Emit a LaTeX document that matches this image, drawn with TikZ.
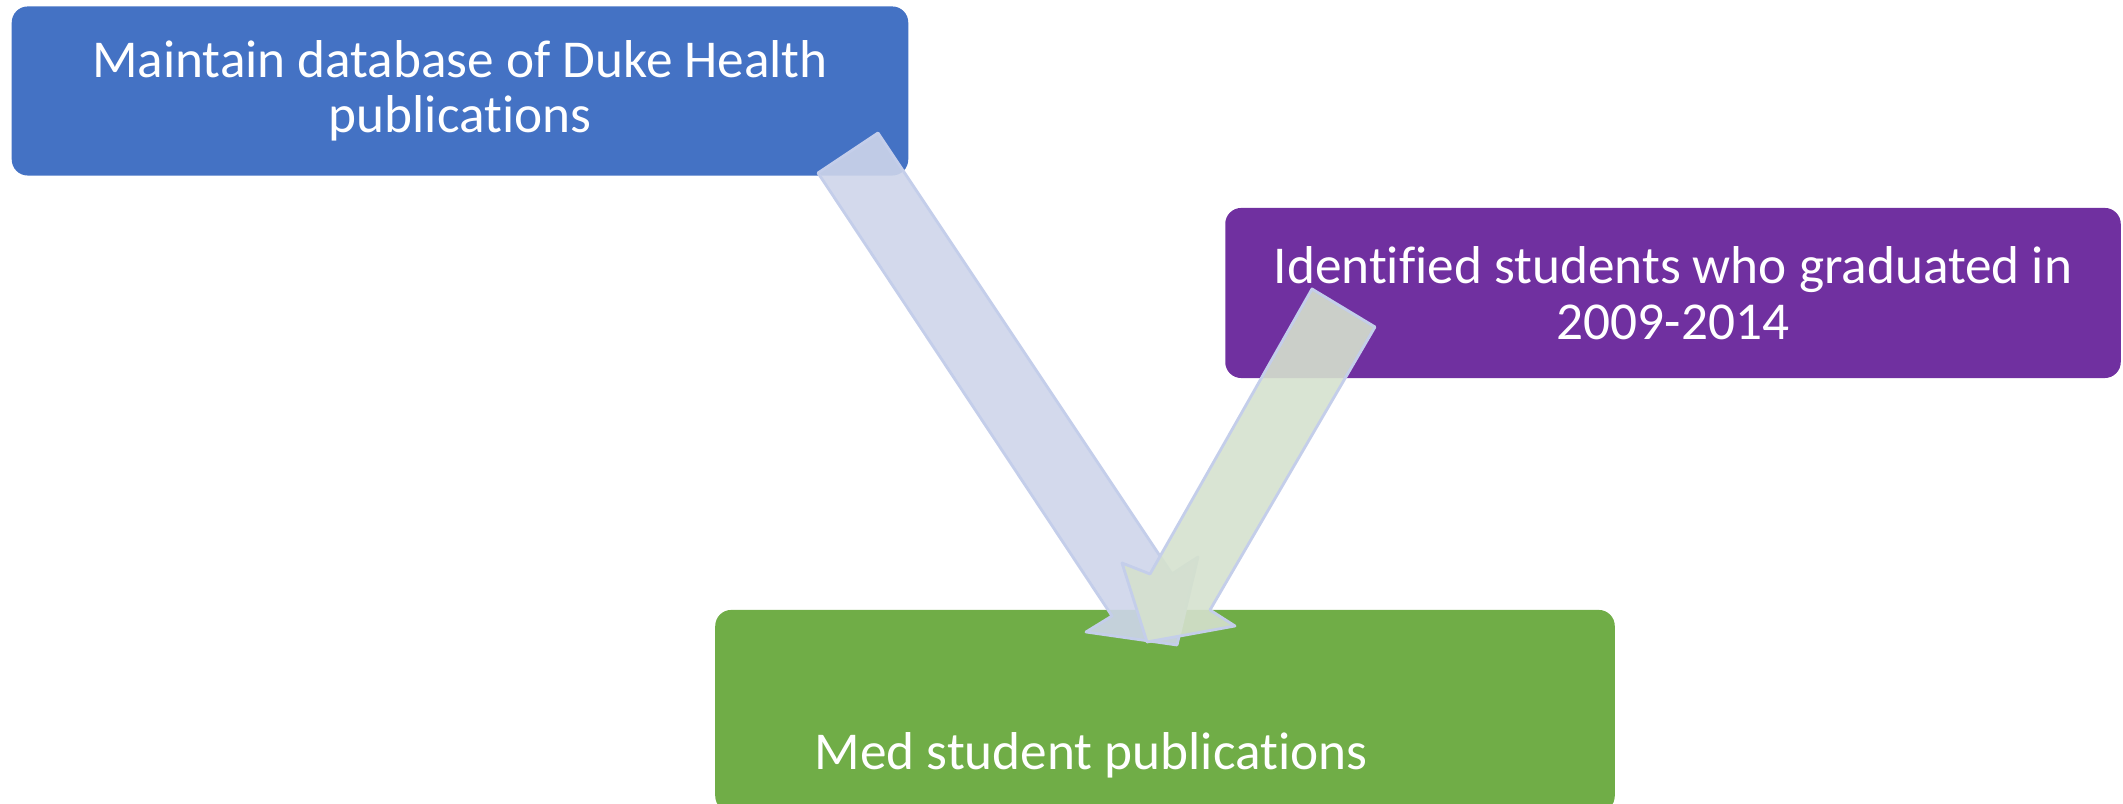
\documentclass[tikz,border=0pt]{standalone}
\usepackage{fontspec}
\setmainfont{Carlito}[Ligatures={NoCommon}]

\definecolor{dukeblue}{HTML}{4472C4}
\definecolor{gradpurple}{HTML}{7030A0}
\definecolor{medgreen}{HTML}{70AD47}
\definecolor{bluearrow}{RGB}{206,213,234}
\definecolor{greenarrow}{RGB}{213,225,206}
\definecolor{arrowline}{RGB}{196,206,234}

\tikzset{
  box/.style={rounded corners=0.16cm, inner sep=0pt, text=white, align=center,
    font=\fontsize{15.15}{15.8}\selectfont},
  blockarrow/.style={draw=arrowline, line width=0.8pt, line join=round, fill opacity=0.9},
}

\begin{document}
\begin{tikzpicture}[x=0.01cm, y=-0.01cm]
      \useasboundingbox (0,0) rectangle (2123,804);

      \node[box, fill=dukeblue, minimum width=8.96cm, minimum height=1.69cm] (maintain) at (460,91)
        {Maintain database of Duke Health\\publications};
      \node[box, fill=gradpurple, minimum width=8.95cm, minimum height=1.70cm] (graduated) at (1673,293)
        {Identified students who graduated in\\2009-2014};
      \node[box, fill=medgreen, minimum width=8.99cm, minimum height=2.02cm] (medpubs) at (1165,711) {};
      \node[box, anchor=base west] (medtext) at (814,770) {Med student publications};

      % block arrows into the green box
      \fill[blockarrow, fill=bluearrow] (818,173) -- (878,133) -- (1172,574) -- (1198,557)
        -- (1177,645) -- (1086,632) -- (1112,616) -- cycle;
      \fill[blockarrow, fill=greenarrow] (1375,327) -- (1312,289) -- (1150,574) -- (1122,563)
        -- (1147,642) -- (1235,626) -- (1210,610) -- cycle;
    \end{tikzpicture}
\end{document}
